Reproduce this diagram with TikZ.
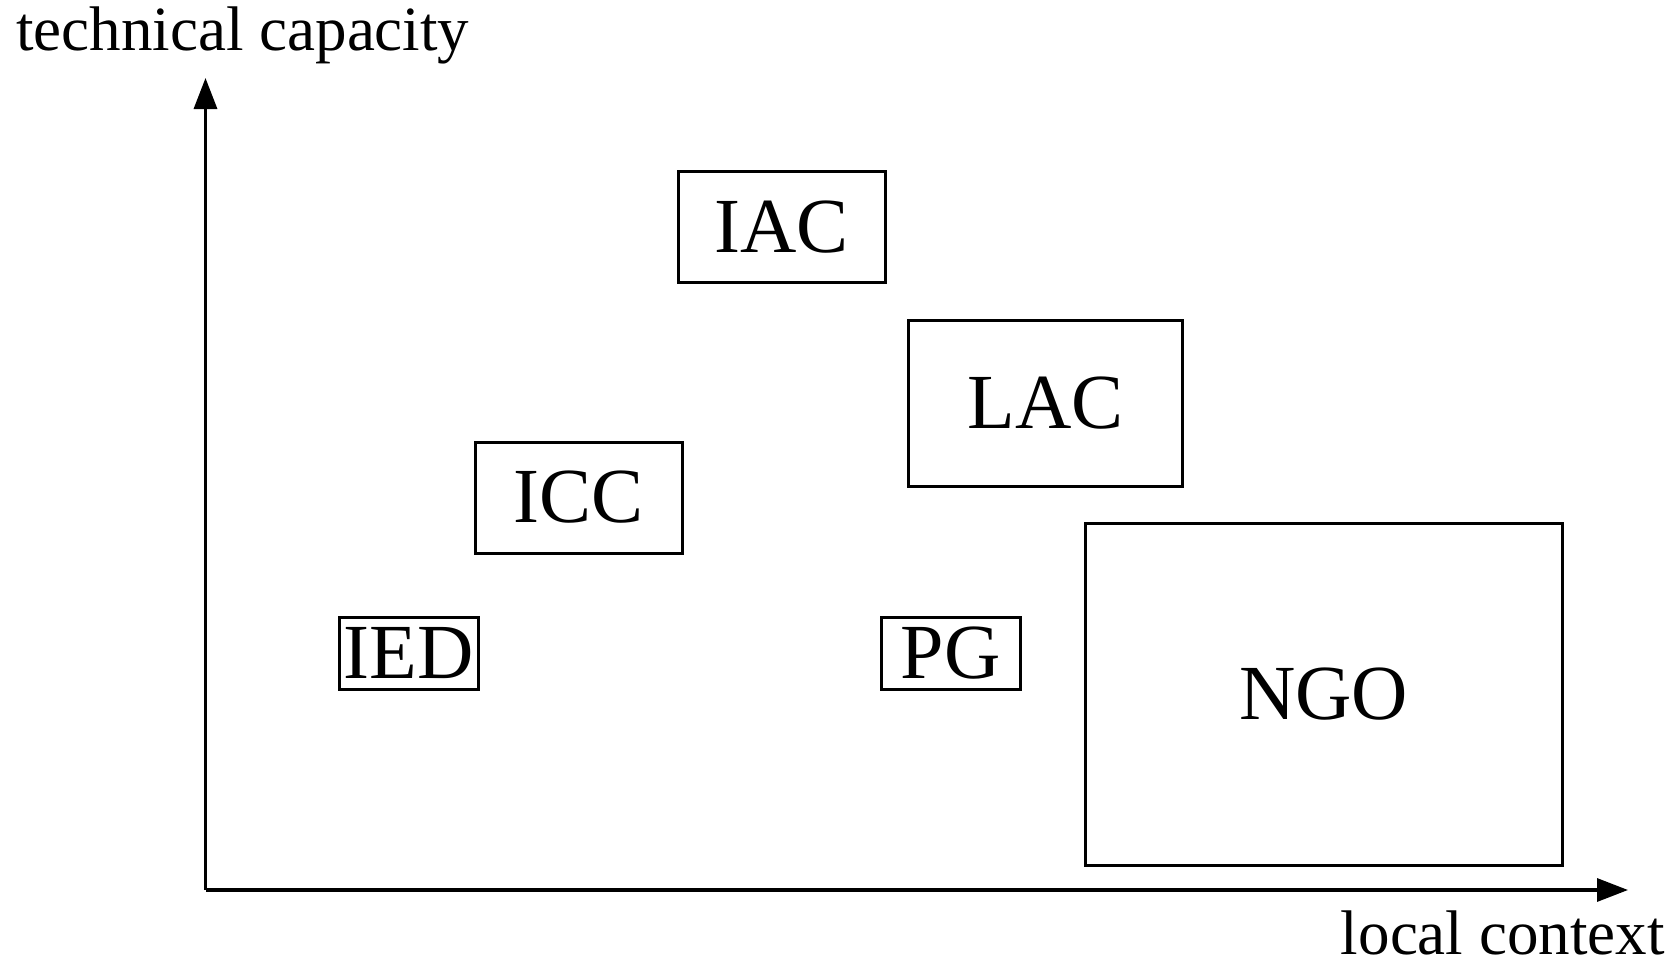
\documentclass[tikz,border=0pt]{standalone}
\usepackage{fontspec}
\setmainfont{Liberation Serif}
\usetikzlibrary{arrows.meta}
\begin{document}
\begin{tikzpicture}[x=0.5pt,y=-0.5pt,
  boxnode/.style={draw,line width=1.5pt,inner sep=0pt,font=\fontsize{39pt}{39pt}\selectfont},
  axislabel/.style={inner sep=0pt,font=\fontsize{31.5pt}{31.5pt}\selectfont},
  axisline/.style={line width=1.65pt,-{Triangle[length=15.5pt,width=11.5pt]}}]
\useasboundingbox (0,0) rectangle (1678,964);
\coordinate (o) at (205.5,890);
\coordinate (ytip) at (205.5,78);
\coordinate (xtip) at (1628,890);
\draw[axisline] (o) -- (ytip);
\draw[axisline] (o) -- (xtip);
\node[axislabel,anchor=base west] (tc) at (16,50) {technical capacity};
\node[axislabel,anchor=base east] (lc) at (1665,954) {local context};
\node[boxnode,minimum width=206.5pt/2,minimum height=111.5pt/2] (iac) at (781.75,226.75) {IAC};
\node[boxnode,minimum width=274pt/2,minimum height=166pt/2] (lac) at (1045.6,403) {LAC};
\node[boxnode,minimum width=207pt/2,minimum height=111pt/2] (icc) at (578.5,497.5) {ICC};
\node[boxnode,minimum width=139pt/2,minimum height=71.5pt/2] (ied) at (408.5,653.25) {IED};
\node[boxnode,minimum width=139pt/2,minimum height=71.5pt/2] (pg) at (950.5,653.25) {PG};
\node[boxnode,minimum width=477.5pt/2,minimum height=342pt/2] (ngo) at (1323.75,694) {NGO};
\end{tikzpicture}
\end{document}
